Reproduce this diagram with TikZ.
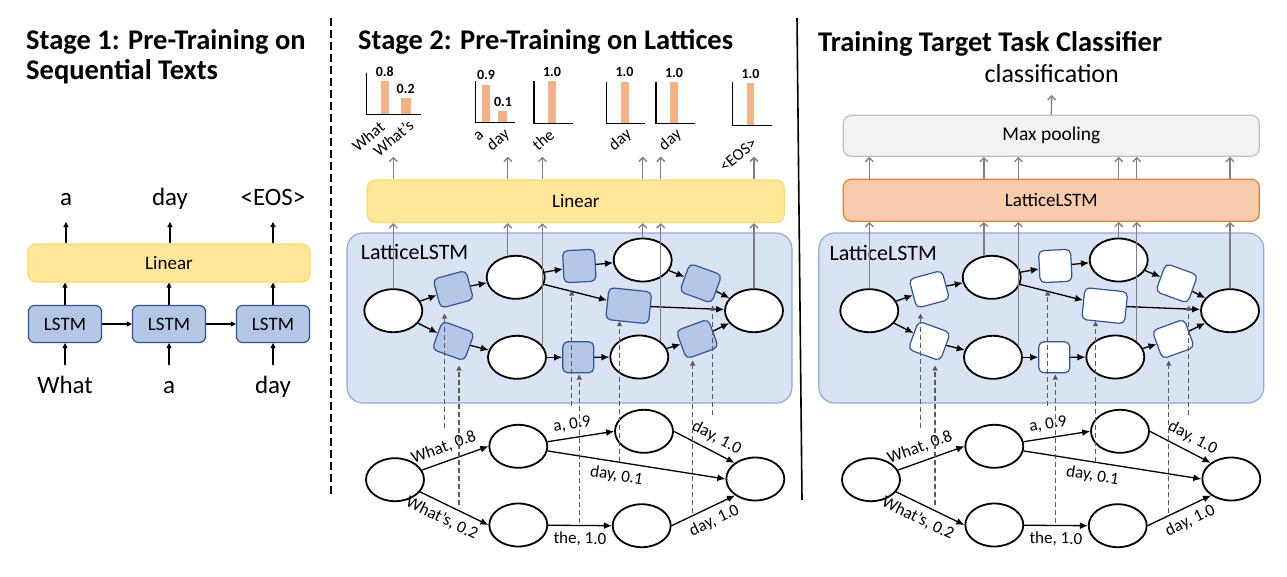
\documentclass[tikz,border=0pt]{standalone}
\usepackage{fontspec}
\setmainfont{Carlito}
\usetikzlibrary{arrows.meta,calc,shapes.geometric}
\definecolor{yelF}{HTML}{FFE699}
\definecolor{yelD}{HTML}{FFD966}
\definecolor{gateF}{HTML}{B4C7E7}
\definecolor{gateD}{HTML}{2F5597}
\definecolor{latF}{HTML}{DAE3F3}
\definecolor{latD}{HTML}{8FAADC}
\definecolor{orF}{HTML}{F8CBAD}
\definecolor{orD}{HTML}{ED7D31}
\definecolor{mpF}{HTML}{F2F2F2}
\definecolor{mpD}{HTML}{BFBFBF}
\definecolor{barF}{HTML}{F4B183}
\definecolor{grayA}{HTML}{7F7F7F}
\definecolor{grayD}{HTML}{595959}
\tikzset{
 ttl/.style={font=\fontsize{28.5}{30}\selectfont\bfseries, anchor=base west, inner sep=0pt},
 ell/.style={ellipse, draw=black, line width=1.8pt, fill=white, minimum width=58pt, minimum height=43pt, inner sep=0pt},
 gate/.style={rectangle, rounded corners=5pt, draw=gateD, fill=#1, line width=1.2pt, minimum width=34pt, minimum height=30pt, inner sep=0pt},
 lstm/.style={rectangle, rounded corners=6pt, draw=gateD, fill=gateF, line width=1.2pt, minimum width=73pt, minimum height=37pt, font=\fontsize{19}{20}\selectfont},
 linbox/.style={rectangle, rounded corners=8pt, draw=yelD, fill=yelF, line width=1.2pt, minimum height=38pt, font=\fontsize{19}{20}\selectfont},
 orbox/.style={rectangle, rounded corners=8pt, draw=orD, fill=orF, line width=1.2pt, minimum width=416pt, minimum height=42pt, font=\fontsize{19}{20}\selectfont},
 mpbox/.style={rectangle, rounded corners=8pt, draw=mpD, fill=mpF, line width=1.2pt, minimum width=416pt, minimum height=41pt, font=\fontsize{19.5}{20}\selectfont},
 bigbox/.style={rectangle, rounded corners=16pt, draw=latD, fill=latF, line width=1.2pt, minimum width=445pt, minimum height=170pt},
 biglab/.style={font=\fontsize{22}{24}\selectfont, anchor=base west, inner sep=0pt},
 w25/.style={font=\fontsize{25}{27}\selectfont, anchor=base, inner sep=0pt},
 w26/.style={font=\fontsize{26}{28}\selectfont, anchor=base, inner sep=0pt},
 val/.style={font=\fontsize{14}{15}\selectfont\bfseries, anchor=base, inner sep=0pt},
 rl/.style={font=\fontsize{16.5}{17}\selectfont, anchor=base east, rotate=40, inner sep=0pt},
 lab/.style={font=\fontsize{17}{18}\selectfont, inner sep=2pt, sloped},
 ar1/.style={-{Triangle[length=5pt,width=5pt]}, line width=1.2pt, black},
 blk/.style={-{Latex[length=8pt,width=7pt]}, line width=1.3pt, black},
 gry/.style={-{Straight Barb[length=4pt,width=8pt]}, line width=1.3pt, grayA},
 dsh/.style={-{Triangle[length=5pt,width=5pt]}, line width=1.2pt, grayD, dash pattern=on 5pt off 3pt},
 axisl/.style={line width=1.3pt, black},
}
\newcommand\latpart[5]{%
 \node[ell] (#1E1) at (#2+393.3,310.7) {};
 \node[ell] (#1E2) at (#2+515.7,277.3) {};
 \node[ell] (#1E3) at (#2+517,357.3) {};
 \node[ell] (#1E4) at (#2+642.7,260) {};
 \node[ell] (#1E5) at (#2+639.3,357) {};
 \node[ell] (#1E6) at (#2+754,310.7) {};
 \node[gate=#3, rotate=15] (#1G1) at (#2+453.3,289.3) {};
 \node[gate=#3, rotate=-20] (#1G2) at (#2+453.3,341) {};
 \node[gate=#3, rotate=3, minimum width=32pt, minimum height=32pt] (#1G3) at (#2+579.3,266) {};
 \node[gate=#3, rotate=-6, minimum width=43pt, minimum height=32pt] (#1G4) at (#2+628.7,305.7) {};
 \node[gate=#3, minimum width=31pt, minimum height=31pt] (#1G5) at (#2+578.3,357.3) {};
 \node[gate=#3, rotate=-20] (#1G6) at (#2+700.7,283.3) {};
 \node[gate=#3, rotate=20] (#1G7) at (#2+697.3,339) {};
 \draw[blk] (#1E1) -- (#1G1);
 \draw[blk] (#1G1) -- (#1E2);
 \draw[blk] (#1E2) -- (#1G3);
 \draw[blk] (#1G3) -- (#1E4);
 \draw[blk] (#1E4) -- (#1G6);
 \draw[blk] (#1G6) -- (#1E6);
 \draw[blk] (#1E1) -- (#1G2);
 \draw[blk] (#1G2) -- (#1E3);
 \draw[blk] (#1E3) -- (#1G5);
 \draw[blk] (#1G5) -- (#1E5);
 \draw[blk] (#1E5) -- (#1G7);
 \draw[blk] (#1G7) -- (#1E6);
 \draw[blk] (#1E2) -- (#1G4);
 \draw[blk] (#1G4) -- (#1E6);
 % lower lattice
 \node[ell] (#1L1) at (#2+395,479.7) {};
 \node[ell] (#1L2) at (#2+518.3,446.3) {};
 \node[ell] (#1L3) at (#2+518.3,525) {};
 \node[ell] (#1L4) at (#2+644,431.3) {};
 \node[ell] (#1L5) at (#2+641.7,525.7) {};
 \node[ell] (#1L6) at (#2+755.3,479) {};
 \draw[blk] (#1L1) -- node[lab,above=4.5pt,pos=0.4] {What, 0.8} (#1L2.west);
 \draw[blk] (#1L1) -- node[lab,below=4.5pt,pos=0.41] {What’s, 0.2} (#1L3.west);
 \draw[blk] (#1L2) -- node[lab,above=4pt,pos=0.4] {a, 0.9} (#1L4.west);
 \draw[blk] (#1L2) -- node[lab,below=4pt,pos=0.4] {day, 0.1} (#1L6.west);
 \draw[blk] (#1L3) -- node[lab,below=4pt,pos=0.5] {the, 1.0} (#1L5.west);
 \draw[blk] (#1L4.east) -- node[lab,above=4pt,pos=0.6] {day, 1.0} (#1L6.142);
 \draw[blk] (#1L5.east) -- node[lab,below=4pt,pos=0.58] {day, 1.0} (#1L6.219);
 % gray outputs
 \draw[gry] (#1E1.north) -- (#1E1.north |- #4.south);
 \draw[gry] (#1E2.110) -- (#1E2.110 |- #4.south);
 \draw[gry] (#1E3.25) -- (#1E3.25 |- #4.south);
 \draw[gry] (#1E4.north) -- (#1E4.north |- #4.south);
 \draw[gry] (#1E5.36) -- (#1E5.36 |- #4.south);
 \draw[gry] (#1E6.north) -- (#1E6.north |- #4.south);
 \draw[gry] (#1E1.north |- #4.north) -- (#1E1.north |- #5);
 \draw[gry] (#1E2.110 |- #4.north) -- (#1E2.110 |- #5);
 \draw[gry] (#1E3.25 |- #4.north) -- (#1E3.25 |- #5);
 \draw[gry] (#1E4.north |- #4.north) -- (#1E4.north |- #5);
 \draw[gry] (#1E5.36 |- #4.north) -- (#1E5.36 |- #5);
 \draw[gry] (#1E6.north |- #4.north) -- (#1E6.north |- #5);
 % dashed inputs
 \coordinate (#1d1) at (#2+444.5,428);
 \coordinate (#1d2) at (#2+459,505);
 \coordinate (#1d3) at (#2+571.7,406);
 \coordinate (#1d4) at (#2+619.5,461.7);
 \coordinate (#1d5) at (#2+579.3,523);
 \coordinate (#1d6) at (#2+712.7,415);
 \coordinate (#1d7) at (#2+692.7,513);
 \path ($(#1G1.south)+(0,9.2)$) coordinate (#1t1);
 \path ($(#1G2.south)+(0,9.9)$) coordinate (#1t2);
 \path ($(#1G3.south)+(0,8)$) coordinate (#1t3);
 \path ($(#1G4.south)+(0,-1)$) coordinate (#1t4);
 \path ($(#1G5.south)+(0,1.2)$) coordinate (#1t5);
 \path ($(#1G6.south)+(0,7.6)$) coordinate (#1t6);
 \path ($(#1G7.south)+(0,6.9)$) coordinate (#1t7);
 \draw[dsh] (#1d1) -- (#1d1 |- #1t1);
 \draw[dsh] (#1d2) -- (#1d2 |- #1t2);
 \draw[dsh] (#1d3) -- (#1d3 |- #1t3);
 \draw[dsh] (#1d4) -- (#1d4 |- #1t4);
 \draw[dsh] (#1d5) -- (#1d5 |- #1t5);
 \draw[dsh] (#1d6) -- (#1d6 |- #1t6);
 \draw[dsh] (#1d7) -- (#1d7 |- #1t7);
}
\begin{document}
\begin{tikzpicture}[x=1pt,y=-1pt]
\fill[white] (0,0) rectangle (1287,576);
\useasboundingbox (0,0) rectangle (1287,576);
% titles
\node[ttl] (t1a) at (26,49) {Stage 1: Pre-Training on};
\node[ttl] (t1b) at (26,79) {Sequential Texts};
\node[ttl] (t2) at (358,49) {Stage 2: Pre-Training on Lattices};
\node[ttl] (t3) at (818,51) {Training Target Task Classifier};
% dividers
\draw[line width=2.2pt, dash pattern=on 8pt off 4pt] (330.7,18) -- (330.7,497);
\draw[line width=1.6pt] (797,18) -- (802,500);
% ---------- panel 1
\node[lstm] (s1a) at (65,324) {LSTM};
\node[lstm] (s1b) at (169,324) {LSTM};
\node[lstm] (s1c) at (273,324) {LSTM};
\node[linbox, minimum width=282pt] (lin1) at (169,263) {Linear};
\node[w25] (o1) at (66,205) {a};
\node[w25] (o2) at (170,205) {day};
\node[w25] (o3) at (273,205) {<EOS>};
\node[w25] (i1) at (65,393.3) {What};
\node[w25] (i2) at (169,393.3) {a};
\node[w25] (i3) at (273,393.3) {day};
\draw[ar1] (s1a) -- (s1b);
\draw[ar1] (s1b) -- (s1c);
\foreach \s/\o/\i in {s1a/o1/i1, s1b/o2/i2, s1c/o3/i3}{
  \draw[ar1] (\s.north) -- (\s.north |- lin1.south);
  \draw[ar1] ($(\i.base)+(0,-28)$) -- (\s.south);
  \draw[ar1] (lin1.north -| \o.base) -- ($(\o.base)+(0,17)$);
}
% ---------- panel 2 top
\node[linbox, minimum width=417pt, minimum height=42.5pt] (lin2) at (575.8,201.3) {Linear};
\coordinate (chb) at (575.8,156.7);
% charts
\fill[barF] (380.7,81) rectangle (389,114.3);
\fill[barF] (400.7,98) rectangle (410.7,114.3);
\draw[axisl] (366.7,72.7) -- (366.7,114.3) -- (421,114.3);
\node[val] at (384.8,76.5) {0.8};
\node[val] at (405.7,93.5) {0.2};
\node[rl] at (386,129) {What};
\node[rl] at (415,127) {What’s};
\fill[barF] (482,84.7) rectangle (490,122.7);
\fill[barF] (498,111) rectangle (506.7,122.7);
\draw[axisl] (475.7,80.7) -- (475.7,122.7) -- (515,122.7);
\node[val] at (486,79.5) {0.9};
\node[val] at (503,106) {0.1};
\node[rl] at (484.5,136) {a};
\node[rl] at (510.5,136) {day};
\fill[barF] (548,81.3) rectangle (556,123.7);
\draw[axisl] (534,81) -- (534,123.7) -- (573,123.7);
\node[val] at (552,76.7) {1.0};
\node[rl] at (555.5,137) {the};
\fill[barF] (620.7,81.7) rectangle (628.7,123.7);
\draw[axisl] (606.7,81.7) -- (606.7,123.7) -- (645,123.7);
\node[val] at (624.5,76.7) {1.0};
\node[rl] at (632.5,136) {day};
\fill[barF] (670,82) rectangle (678,123.7);
\draw[axisl] (656,81.7) -- (656,123.7) -- (695,123.7);
\node[val] at (674,77.5) {1.0};
\node[rl] at (682.5,136) {day};
\fill[barF] (746.7,83) rectangle (754.3,125.7);
\draw[axisl] (732.7,82) -- (732.7,125.7) -- (772,125.7);
\node[val] at (750.5,78) {1.0};
\node[rl] at (758,145) {<EOS>};
% ---------- panel 3 top
\node[mpbox] (mp) at (1051.3,135.8) {Max pooling};
\node[orbox] (ol3) at (1051.3,200.3) {LatticeLSTM};
\node[w26] (cls) at (1051.7,82) {classification};
\draw[gry] (mp.north) -- ($(cls.base)+(0,13)$);
% ---------- big lattice boxes
\node[bigbox] (bb2) at (569.5,318) {};
\node[biglab] (bl2) at (360.7,259.3) {LatticeLSTM};
\node[bigbox] (bb3) at (1041.3,318) {};
\node[biglab] (bl3) at (829.3,260) {LatticeLSTM};
\latpart{a}{0}{gateF}{lin2}{chb}
\latpart{b}{476}{white}{ol3}{mp.south}
\end{tikzpicture}
\end{document}
